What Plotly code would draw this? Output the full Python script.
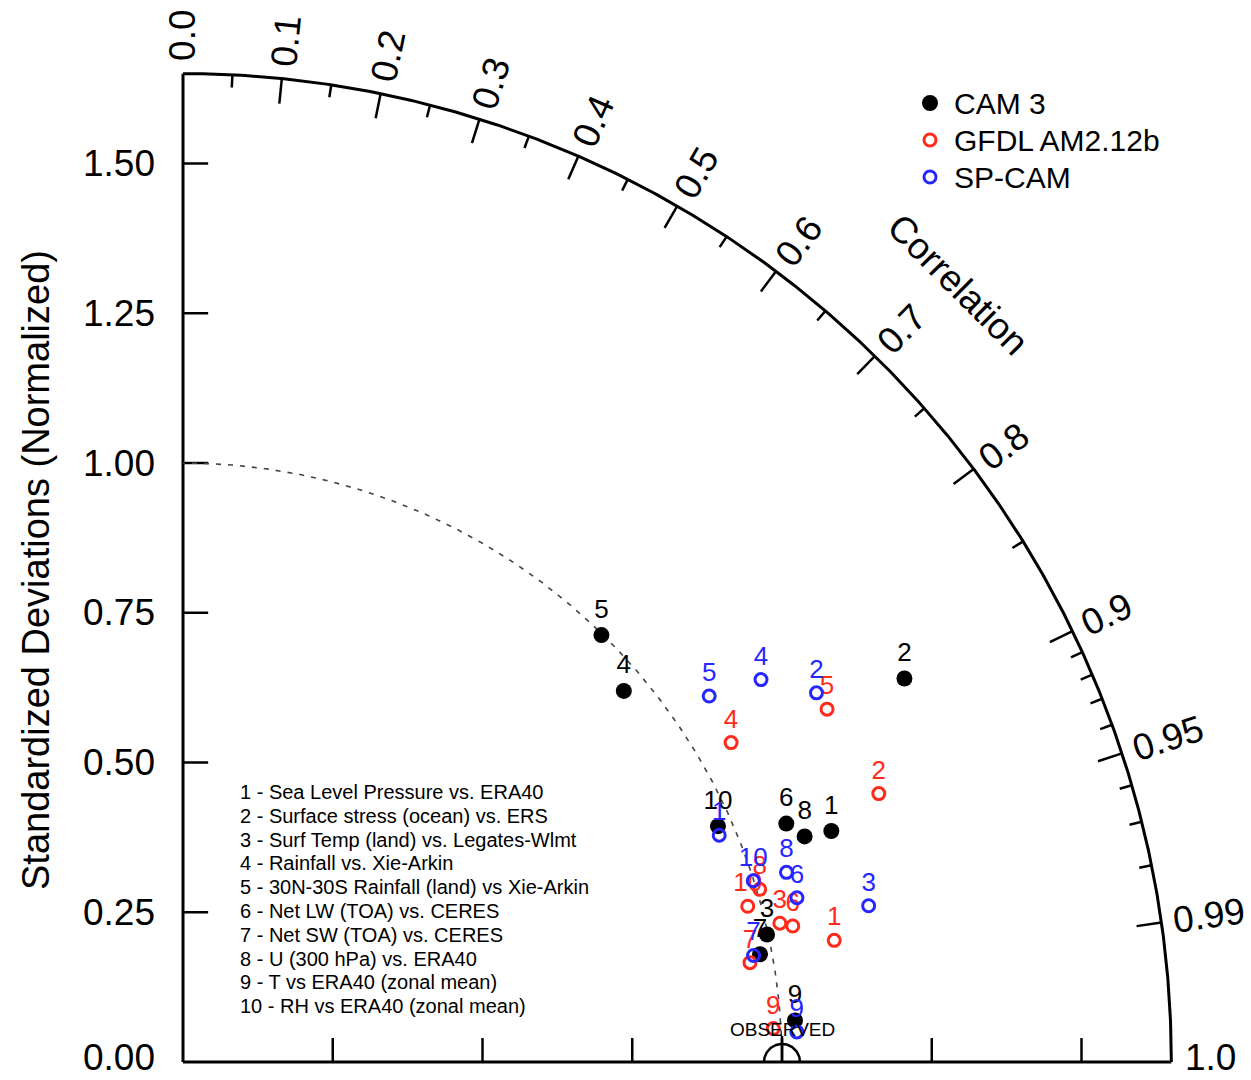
import numpy as np
import plotly.graph_objects as go

# ---------------------------------------------------------------- data
case_ids = [str(i) for i in range(1, 11)]
case_names = [
    "Sea Level Pressure vs. ERA40",
    "Surface stress (ocean) vs. ERS",
    "Surf Temp (land) vs. Legates-Wlmt",
    "Rainfall vs. Xie-Arkin",
    "30N-30S Rainfall (land) vs Xie-Arkin",
    "Net LW (TOA) vs. CERES",
    "Net SW (TOA) vs. CERES",
    "U (300 hPa) vs. ERA40",
    "T vs ERA40 (zonal mean)",
    "RH vs ERA40 (zonal mean)",
]

model_names = ["CAM 3", "GFDL AM2.12b", "SP-CAM"]

cam3_corr = [0.942, 0.883, 0.977, 0.765, 0.700, 0.930, 0.983, 0.940, 0.9977, 0.915]
cam3_std = [1.149, 1.364, 0.998, 0.962, 0.998, 1.083, 0.980, 1.104, 1.024, 0.976]

gfdl_corr = [0.983, 0.933, 0.974, 0.864, 0.877, 0.976, 0.985, 0.958, 0.9984, 0.964]
gfdl_std = [1.106, 1.245, 1.023, 1.059, 1.226, 1.043, 0.961, 1.005, 0.987, 0.978]

spcam_corr = [0.921, 0.864, 0.975, 0.834, 0.821, 0.966, 0.983, 0.954, 0.9988, 0.953]
spcam_std = [0.972, 1.224, 1.174, 1.157, 1.070, 1.061, 0.969, 1.056, 1.026, 0.999]

corr_major = [0.1, 0.2, 0.3, 0.4, 0.5, 0.6, 0.7, 0.8, 0.9, 0.95, 0.99]
corr_minor = [0.05, 0.15, 0.25, 0.35, 0.45, 0.55, 0.65, 0.75, 0.85,
              0.91, 0.92, 0.93, 0.94, 0.96, 0.97, 0.98]
corr_label_vals = [0.0, 0.1, 0.2, 0.3, 0.4, 0.5, 0.6, 0.7, 0.8, 0.9, 0.95, 0.99]
corr_label_text = ["0.0", "0.1", "0.2", "0.3", "0.4", "0.5", "0.6", "0.7",
                   "0.8", "0.9", "0.95", "0.99"]

std_tick_vals = [0.0, 0.25, 0.5, 0.75, 1.0, 1.25, 1.5]
std_tick_text = ["0.00", "0.25", "0.50", "0.75", "1.00", "1.25", "1.50"]

# ---------------------------------------------------------------- geometry
W, H = 1251, 1080
PX = 599.0            # pixels per unit of normalized standard deviation
X0, Y0 = 183, 1062    # pixel position of the origin
RMAX = 1.65
FONT = "Liberation Sans, Arial, Helvetica, sans-serif"

RED = "#ff2a1a"
BLUE = "#2626ff"


def px2x(p):
    return (p - X0) / PX


def px2y(p):
    return (Y0 - p) / PX


def to_xy(corr, std):
    th = np.arccos(np.clip(np.asarray(corr, dtype=float), -1, 1))
    std = np.asarray(std, dtype=float)
    return std * np.cos(th), std * np.sin(th)


# Helvetica-like advance widths for placing rotated labels
CHAR_W = {"0": .556, "1": .556, "2": .556, "3": .556, "4": .556, "5": .556,
          "6": .556, "7": .556, "8": .556, "9": .556, ".": .278}


def text_width(s, size):
    return sum(CHAR_W.get(c, .556) for c in s) * size


fig = go.Figure()

# ---------------------------------------------------------------- frame
fx, fy = [], []
# left and bottom axes
fx += [0, 0, None, 0, RMAX, None]
fy += [RMAX, 0, None, 0, 0, None]
# outer correlation arc
th = np.linspace(0, np.pi / 2, 400)
fx += list(RMAX * np.cos(th)) + [None]
fy += list(RMAX * np.sin(th)) + [None]
fig.add_trace(go.Scatter(x=fx, y=fy, mode="lines",
                         line=dict(color="black", width=3),
                         hoverinfo="skip", showlegend=False))

tx, ty = [], []
# std ticks on the left and bottom axes
for v in std_tick_vals[1:]:
    tx += [0, 0.042, None]
    ty += [v, v, None]
    tx += [v, v, None]
    ty += [0, 0.040, None]
# correlation ticks pointing inward
for c in corr_major:
    a = np.arccos(c)
    tx += [RMAX * np.cos(a), (RMAX - 0.042) * np.cos(a), None]
    ty += [RMAX * np.sin(a), (RMAX - 0.042) * np.sin(a), None]
for c in corr_minor:
    a = np.arccos(c)
    tx += [RMAX * np.cos(a), (RMAX - 0.021) * np.cos(a), None]
    ty += [RMAX * np.sin(a), (RMAX - 0.021) * np.sin(a), None]
fig.add_trace(go.Scatter(x=tx, y=ty, mode="lines",
                         line=dict(color="black", width=2.5),
                         hoverinfo="skip", showlegend=False))

# unit standard deviation arc
th1 = np.linspace(np.arccos(0.999), np.pi / 2, 300)
fig.add_trace(go.Scatter(x=np.cos(th1), y=np.sin(th1), mode="lines",
                         line=dict(color="#444444", width=1.6, dash="5px,7px"),
                         hoverinfo="skip", showlegend=False))

# observed reference symbol
ths = np.linspace(0, np.pi, 80)
rr = 18 / PX
ox = list(1 + rr * np.cos(ths)) + [None, 1, 1]
oy = list(rr * np.sin(ths)) + [None, 0, 26 / PX]
fig.add_trace(go.Scatter(x=ox, y=oy, mode="lines",
                         line=dict(color="black", width=2.5),
                         hoverinfo="skip", showlegend=False))

annotations = []
annotations.append(dict(x=1.0, y=px2y(1029), text="OBSERVED", showarrow=False,
                        font=dict(family=FONT, size=19, color="black"),
                        xanchor="center", yanchor="middle"))

# ---------------------------------------------------------------- model points
series = [
    (model_names[0], cam3_corr, cam3_std, "black",
     dict(symbol="circle", size=16, color="black")),
    (model_names[1], gfdl_corr, gfdl_std, RED,
     dict(symbol="circle-open", size=12, color=RED, line=dict(width=3, color=RED))),
    (model_names[2], spcam_corr, spcam_std, BLUE,
     dict(symbol="circle-open", size=12, color=BLUE, line=dict(width=3, color=BLUE))),
]
for name, corr, std, col, mk in series:
    x, y = to_xy(corr, std)
    fig.add_trace(go.Scatter(
        x=x, y=y, mode="markers+text", name=name,
        marker=mk, text=case_ids, textposition="top center",
        textfont=dict(family=FONT, size=26, color=col),
        cliponaxis=False, showlegend=False))

# ---------------------------------------------------------------- legend
leg_rows = [103, 140, 177]
for (name, corr, std, col, mk), row in zip(series, leg_rows):
    fig.add_trace(go.Scatter(x=[px2x(930)], y=[px2y(row)], mode="markers",
                             marker=mk, hoverinfo="skip", showlegend=False))
    annotations.append(dict(x=px2x(952), y=px2y(row), text=name, showarrow=False,
                            font=dict(family=FONT, size=30, color="black"),
                            xanchor="left", yanchor="middle"))

# case descriptions
for i, (cid, desc) in enumerate(zip(case_ids, case_names)):
    annotations.append(dict(x=px2x(238), y=px2y(792 + i * 23.8),
                            text=f"{cid} - {desc}", showarrow=False,
                            font=dict(family=FONT, size=20, color="black"),
                            xanchor="left", yanchor="middle"))

# ---------------------------------------------------------------- axis labels
for v, t in zip(std_tick_vals, std_tick_text):
    if v == 0:
        annotations.append(dict(x=px2x(157), y=px2y(1080), text=t, showarrow=False,
                                font=dict(family=FONT, size=37, color="black"),
                                xanchor="right", yanchor="bottom"))
    else:
        annotations.append(dict(x=px2x(157), y=v, text=t, showarrow=False,
                                font=dict(family=FONT, size=37, color="black"),
                                xanchor="right", yanchor="middle"))

annotations.append(dict(x=px2x(36), y=px2y(570),
                        text="Standardized Deviations (Normalized)", showarrow=False,
                        textangle=-90,
                        font=dict(family=FONT, size=38, color="black"),
                        xanchor="center", yanchor="middle"))

for c, t in zip(corr_label_vals, corr_label_text):
    a = np.arccos(c)
    r = RMAX + (12 + text_width(t, 37) / 2) / PX
    annotations.append(dict(x=r * np.cos(a), y=r * np.sin(a), text=t,
                            showarrow=False, textangle=-np.degrees(a),
                            font=dict(family=FONT, size=37, color="black"),
                            xanchor="center", yanchor="middle"))

# label for perfect correlation at the end of the bottom axis
annotations.append(dict(x=RMAX + 12 / PX, y=px2y(1080), text="1.0",
                        showarrow=False,
                        font=dict(family=FONT, size=37, color="black"),
                        xanchor="left", yanchor="bottom"))

annotations.append(dict(x=px2x(958), y=px2y(284), text="Correlation",
                        showarrow=False, textangle=45,
                        font=dict(family=FONT, size=37, color="black"),
                        xanchor="center", yanchor="middle"))

fig.update_layout(
    width=W, height=H,
    margin=dict(l=0, r=0, t=0, b=0),
    paper_bgcolor="white", plot_bgcolor="white",
    xaxis=dict(range=[px2x(0), px2x(W)], visible=False, fixedrange=True),
    yaxis=dict(range=[px2y(H), px2y(0)], visible=False, fixedrange=True),
    annotations=annotations,
    showlegend=False,
)

fig.write_html("out.html")
